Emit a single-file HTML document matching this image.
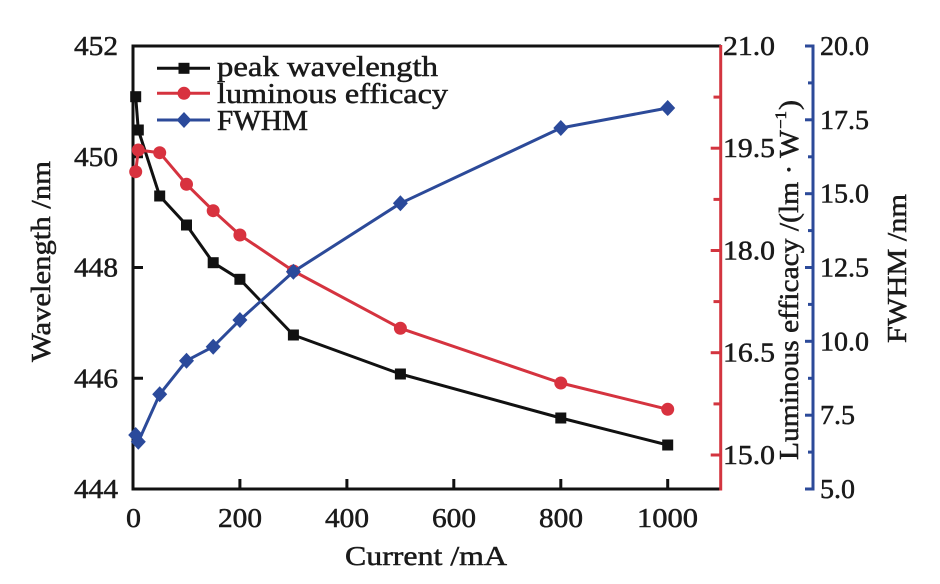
<!DOCTYPE html>
<html>
<head>
<meta charset="utf-8">
<style>
html,body{margin:0;padding:0;background:#fff;}
svg{display:block;}
text{font-family:"Liberation Serif",serif;fill:#1a1a1a;stroke:#1a1a1a;stroke-width:0.5px;}
</style>
</head>
<body>
<svg width="940" height="584" viewBox="0 0 940 584" xmlns="http://www.w3.org/2000/svg">
<rect width="940" height="584" fill="#fff"/>

<!-- Left axis + box -->
<g stroke="#111" stroke-width="3" fill="none">
  <line x1="133" y1="44.5" x2="133" y2="490.5"/>
  <line x1="131.5" y1="46" x2="721" y2="46"/>
  <line x1="131.5" y1="489" x2="721" y2="489"/>
  <line x1="133" y1="156.75" x2="143" y2="156.75"/>
  <line x1="133" y1="267.5" x2="143" y2="267.5"/>
  <line x1="133" y1="378.25" x2="143" y2="378.25"/>
  <line x1="239.9" y1="489" x2="239.9" y2="479"/>
  <line x1="346.9" y1="489" x2="346.9" y2="479"/>
  <line x1="453.8" y1="489" x2="453.8" y2="479"/>
  <line x1="560.8" y1="489" x2="560.8" y2="479"/>
  <line x1="667.7" y1="489" x2="667.7" y2="479"/>
</g>

<!-- Red axis -->
<g stroke="#d3353f" stroke-width="3" fill="none">
  <line x1="720.7" y1="45" x2="720.7" y2="490.5"/>
  <line x1="710.7" y1="148.2" x2="720.7" y2="148.2"/>
  <line x1="710.7" y1="250.5" x2="720.7" y2="250.5"/>
  <line x1="710.7" y1="352.7" x2="720.7" y2="352.7"/>
  <line x1="710.7" y1="455" x2="720.7" y2="455"/>
  <line x1="713.5" y1="97.1" x2="720.7" y2="97.1"/>
  <line x1="713.5" y1="199.4" x2="720.7" y2="199.4"/>
  <line x1="713.5" y1="301.6" x2="720.7" y2="301.6"/>
  <line x1="713.5" y1="403.9" x2="720.7" y2="403.9"/>
</g>

<!-- Blue axis -->
<g stroke="#2c4a99" stroke-width="3" fill="none">
  <line x1="813" y1="44.5" x2="813" y2="490.5"/>
  <line x1="805" y1="46" x2="813" y2="46"/>
  <line x1="805" y1="119.8" x2="813" y2="119.8"/>
  <line x1="805" y1="193.7" x2="813" y2="193.7"/>
  <line x1="805" y1="267.5" x2="813" y2="267.5"/>
  <line x1="805" y1="341.3" x2="813" y2="341.3"/>
  <line x1="805" y1="415.2" x2="813" y2="415.2"/>
  <line x1="805" y1="489" x2="813" y2="489"/>
  <line x1="808" y1="82.9" x2="813" y2="82.9"/>
  <line x1="808" y1="156.8" x2="813" y2="156.8"/>
  <line x1="808" y1="230.6" x2="813" y2="230.6"/>
  <line x1="808" y1="304.4" x2="813" y2="304.4"/>
  <line x1="808" y1="378.3" x2="813" y2="378.3"/>
  <line x1="808" y1="452.1" x2="813" y2="452.1"/>
</g>

<!-- Left tick labels -->
<g font-size="27" text-anchor="end">
  <text x="118" y="55" textLength="44" lengthAdjust="spacingAndGlyphs">452</text>
  <text x="118" y="166" textLength="44" lengthAdjust="spacingAndGlyphs">450</text>
  <text x="118" y="276.5" textLength="44" lengthAdjust="spacingAndGlyphs">448</text>
  <text x="118" y="387.5" textLength="44" lengthAdjust="spacingAndGlyphs">446</text>
  <text x="118" y="498" textLength="44" lengthAdjust="spacingAndGlyphs">444</text>
</g>

<!-- X tick labels -->
<g font-size="27">
  <text x="126" y="527" textLength="15" lengthAdjust="spacingAndGlyphs">0</text>
  <text x="218" y="527" textLength="44" lengthAdjust="spacingAndGlyphs">200</text>
  <text x="325" y="527" textLength="44" lengthAdjust="spacingAndGlyphs">400</text>
  <text x="432" y="527" textLength="44" lengthAdjust="spacingAndGlyphs">600</text>
  <text x="539" y="527" textLength="44" lengthAdjust="spacingAndGlyphs">800</text>
  <text x="637" y="527" textLength="61" lengthAdjust="spacingAndGlyphs">1000</text>
</g>

<!-- Red tick labels -->
<g font-size="27">
  <text x="723" y="55" textLength="52" lengthAdjust="spacingAndGlyphs">21.0</text>
  <text x="723" y="157.2" textLength="52" lengthAdjust="spacingAndGlyphs">19.5</text>
  <text x="723" y="259.5" textLength="52" lengthAdjust="spacingAndGlyphs">18.0</text>
  <text x="723" y="361.7" textLength="52" lengthAdjust="spacingAndGlyphs">16.5</text>
  <text x="723" y="464" textLength="52" lengthAdjust="spacingAndGlyphs">15.0</text>
</g>

<!-- Blue tick labels -->
<g font-size="27">
  <text x="820" y="55" textLength="49" lengthAdjust="spacingAndGlyphs">20.0</text>
  <text x="820" y="128.8" textLength="49" lengthAdjust="spacingAndGlyphs">17.5</text>
  <text x="820" y="202.7" textLength="49" lengthAdjust="spacingAndGlyphs">15.0</text>
  <text x="820" y="276.5" textLength="49" lengthAdjust="spacingAndGlyphs">12.5</text>
  <text x="820" y="350.3" textLength="49" lengthAdjust="spacingAndGlyphs">10.0</text>
  <text x="820" y="424.2" textLength="35" lengthAdjust="spacingAndGlyphs">7.5</text>
  <text x="820" y="498" textLength="35" lengthAdjust="spacingAndGlyphs">5.0</text>
</g>

<!-- Axis titles -->
<text x="345" y="565" font-size="27" textLength="162" lengthAdjust="spacingAndGlyphs">Current /mA</text>
<g transform="translate(50,262) rotate(-90)">
  <text x="-100" y="0" font-size="27" textLength="201" lengthAdjust="spacingAndGlyphs">Wavelength /nm</text>
</g>
<g transform="translate(798,273) rotate(-90)">
  <text x="-187" y="0" font-size="27" textLength="330" lengthAdjust="spacingAndGlyphs">Luminous efficacy /(lm · W</text>
  <text x="144" y="-12" font-size="16" textLength="18" lengthAdjust="spacingAndGlyphs">−1</text>
  <text x="163" y="0" font-size="27" textLength="10" lengthAdjust="spacingAndGlyphs">)</text>
</g>
<g transform="translate(906,268) rotate(-90)">
  <text x="-75" y="0" font-size="27" textLength="149" lengthAdjust="spacingAndGlyphs">FWHM /nm</text>
</g>

<!-- Series: black peak wavelength -->
<polyline fill="none" stroke="#111" stroke-width="3" stroke-linejoin="round"
  points="135.7,96.7 138.3,130 159.7,196 186.5,225 213.2,262.7 239.9,279.3 293.4,335 400.4,374 560.8,418 667.7,445"/>
<g fill="#111">
  <rect x="130.2" y="91.2" width="11" height="11"/>
  <rect x="132.8" y="124.5" width="11" height="11"/>
  <rect x="154.2" y="190.5" width="11" height="11"/>
  <rect x="181" y="219.5" width="11" height="11"/>
  <rect x="207.7" y="257.2" width="11" height="11"/>
  <rect x="234.4" y="273.8" width="11" height="11"/>
  <rect x="287.9" y="329.5" width="11" height="11"/>
  <rect x="394.9" y="368.5" width="11" height="11"/>
  <rect x="555.3" y="412.5" width="11" height="11"/>
  <rect x="662.2" y="439.5" width="11" height="11"/>
</g>

<!-- Series: red luminous efficacy -->
<polyline fill="none" stroke="#d5333f" stroke-width="3" stroke-linejoin="round"
  points="135.7,171.7 138.3,150 159.7,152.7 186.5,184.3 213.2,210.7 239.9,235 293.4,271 400.4,328.3 560.8,383 667.7,409.3"/>
<g fill="#d8323f">
  <circle cx="135.7" cy="171.7" r="6.5"/>
  <circle cx="138.3" cy="150" r="6.5"/>
  <circle cx="159.7" cy="152.7" r="6.5"/>
  <circle cx="186.5" cy="184.3" r="6.5"/>
  <circle cx="213.2" cy="210.7" r="6.5"/>
  <circle cx="239.9" cy="235" r="6.5"/>
  <circle cx="293.4" cy="271" r="6.5"/>
  <circle cx="400.4" cy="328.3" r="6.5"/>
  <circle cx="560.8" cy="383" r="6.5"/>
  <circle cx="667.7" cy="409.3" r="6.5"/>
</g>

<!-- Series: blue FWHM -->
<polyline fill="none" stroke="#2c4a99" stroke-width="3" stroke-linejoin="round"
  points="135.7,435 138.3,441.7 159.7,394.3 186.5,360.7 213.2,346.7 239.9,320 293.4,271.7 400.4,203.3 560.8,128 667.7,108"/>
<g fill="#2b4a9b">
  <path d="M135.7,427 l7.5,8 l-7.5,8 l-7.5,-8z"/>
  <path d="M138.3,433.7 l7.5,8 l-7.5,8 l-7.5,-8z"/>
  <path d="M159.7,386.3 l7.5,8 l-7.5,8 l-7.5,-8z"/>
  <path d="M186.5,352.7 l7.5,8 l-7.5,8 l-7.5,-8z"/>
  <path d="M213.2,338.7 l7.5,8 l-7.5,8 l-7.5,-8z"/>
  <path d="M239.9,312 l7.5,8 l-7.5,8 l-7.5,-8z"/>
  <path d="M293.4,263.7 l7.5,8 l-7.5,8 l-7.5,-8z"/>
  <path d="M400.4,195.3 l7.5,8 l-7.5,8 l-7.5,-8z"/>
  <path d="M560.8,120 l7.5,8 l-7.5,8 l-7.5,-8z"/>
  <path d="M667.7,100 l7.5,8 l-7.5,8 l-7.5,-8z"/>
</g>

<!-- Legend -->
<g stroke-width="3">
  <line x1="157" y1="68.3" x2="210" y2="68.3" stroke="#111"/>
  <line x1="157" y1="93.3" x2="210" y2="93.3" stroke="#d5333f"/>
  <line x1="157" y1="120" x2="210" y2="120" stroke="#2c4a99"/>
</g>
<rect x="178.5" y="62.8" width="11" height="11" fill="#111"/>
<circle cx="184" cy="93.3" r="6.5" fill="#d8323f"/>
<path d="M184,112 l7.5,8 l-7.5,8 l-7.5,-8z" fill="#2b4a9b"/>
<g font-size="28">
  <text x="217" y="76" textLength="221" lengthAdjust="spacingAndGlyphs">peak wavelength</text>
  <text x="217" y="103" textLength="231" lengthAdjust="spacingAndGlyphs">luminous efficacy</text>
  <text x="217" y="130" textLength="91" lengthAdjust="spacingAndGlyphs">FWHM</text>
</g>
</svg>
</body>
</html>
